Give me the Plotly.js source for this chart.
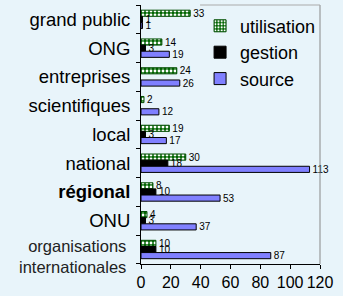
<!DOCTYPE html>
<html>
<head>
<meta charset="utf-8">
<script src="https://cdn.plot.ly/plotly-3.0.1.min.js"></script>
<style>
html,body{margin:0;padding:0;background:#e8f4fa;}
#chart{width:343px;height:296px;}
</style>
</head>
<body>
<div id="chart"></div>
<script>
const categories = ["grand public","ONG","entreprises","scientifiques","local","national","régional","ONU","organisations internationales"];
const utilisation = [33,14,24,2,19,30,8,4,10];
const gestion = [1,3,null,null,3,18,10,3,10];
const source = [1,19,26,12,17,113,53,37,87];
const xTicks = [0,20,40,60,80,100,120];

const LONG = "organisations internationales";
function tickLabel(c){
  if(c === LONG) return "";
  if(c === "régional") return "<b>" + c + "</b>";
  return c;
}

const textFont = {family:"Liberation Sans, Arial, sans-serif", size:10, color:"#000"};
function mk(name, vals, marker){
  return {type:"bar", orientation:"h", name:name, y:categories, x:vals,
    text:vals.map(v=>v==null?"":String(v)), textposition:"outside", textfont:textFont,
    constraintext:"none", cliponaxis:false, marker:marker};
}

const traces = [
  mk("utilisation", utilisation, {color:"#006400", line:{color:"#004d00", width:1},
     pattern:{shape:".", fgcolor:"#ffffff", bgcolor:"#006400", size:4, solidity:0.4}}),
  mk("gestion", gestion, {color:"#000000", line:{color:"#000", width:1}}),
  mk("source", source, {color:"#8080ff", line:{color:"#000", width:1}})
];

const layout = {
  width:343, height:296,
  margin:{l:141, r:23, t:5, b:32, pad:0},
  paper_bgcolor:"#e8f4fa", plot_bgcolor:"rgba(0,0,0,0)",
  font:{family:"Liberation Sans, Arial, sans-serif", color:"#000"},
  barmode:"group", bargap:0.36, bargroupgap:0,
  showlegend:true,
  legend:{x:0.33, y:0.99, xanchor:"left", yanchor:"top", bgcolor:"rgba(0,0,0,0)",
    font:{size:18, color:"#000"}, tracegroupgap:0, itemwidth:30},
  xaxis:{range:[0,120], tickvals:xTicks, ticktext:xTicks.map(String), showgrid:false, zeroline:false,
    showline:true, linecolor:"#000", linewidth:1, ticks:"outside", ticklen:4, tickcolor:"#000",
    tickfont:{size:16, color:"#000"}, fixedrange:true},
  yaxis:{type:"category", categoryorder:"array", categoryarray:categories, autorange:"reversed",
    tickvals:categories, ticktext:categories.map(tickLabel),
    showgrid:false, zeroline:false, showline:true, linecolor:"#000", linewidth:1,
    ticks:"outside", ticklen:4, tickcolor:"#000", tickson:"boundaries", ticklabelstandoff:6,
    tickfont:{size:18.5, color:"#000"}, fixedrange:true},
  annotations:[
    {xref:"paper", yref:"y", x:-0.07, y:LONG, xanchor:"right", yanchor:"middle", yshift:-7,
     text:"organisations<br>internationales", showarrow:false, align:"right",
     font:{size:16.5, color:"#222"}}
  ],
  shapes:[
    {type:"line", xref:"paper", yref:"paper", x0:1, x1:1, y0:0, y1:1, line:{color:"#888", width:1}},
    {type:"line", xref:"paper", yref:"paper", x0:0.33, x1:1, y0:1, y1:1, line:{color:"#aaa", width:1}}
  ]
};

Plotly.newPlot("chart", traces, layout, {displayModeBar:false, staticPlot:true});
</script>
</body>
</html>
